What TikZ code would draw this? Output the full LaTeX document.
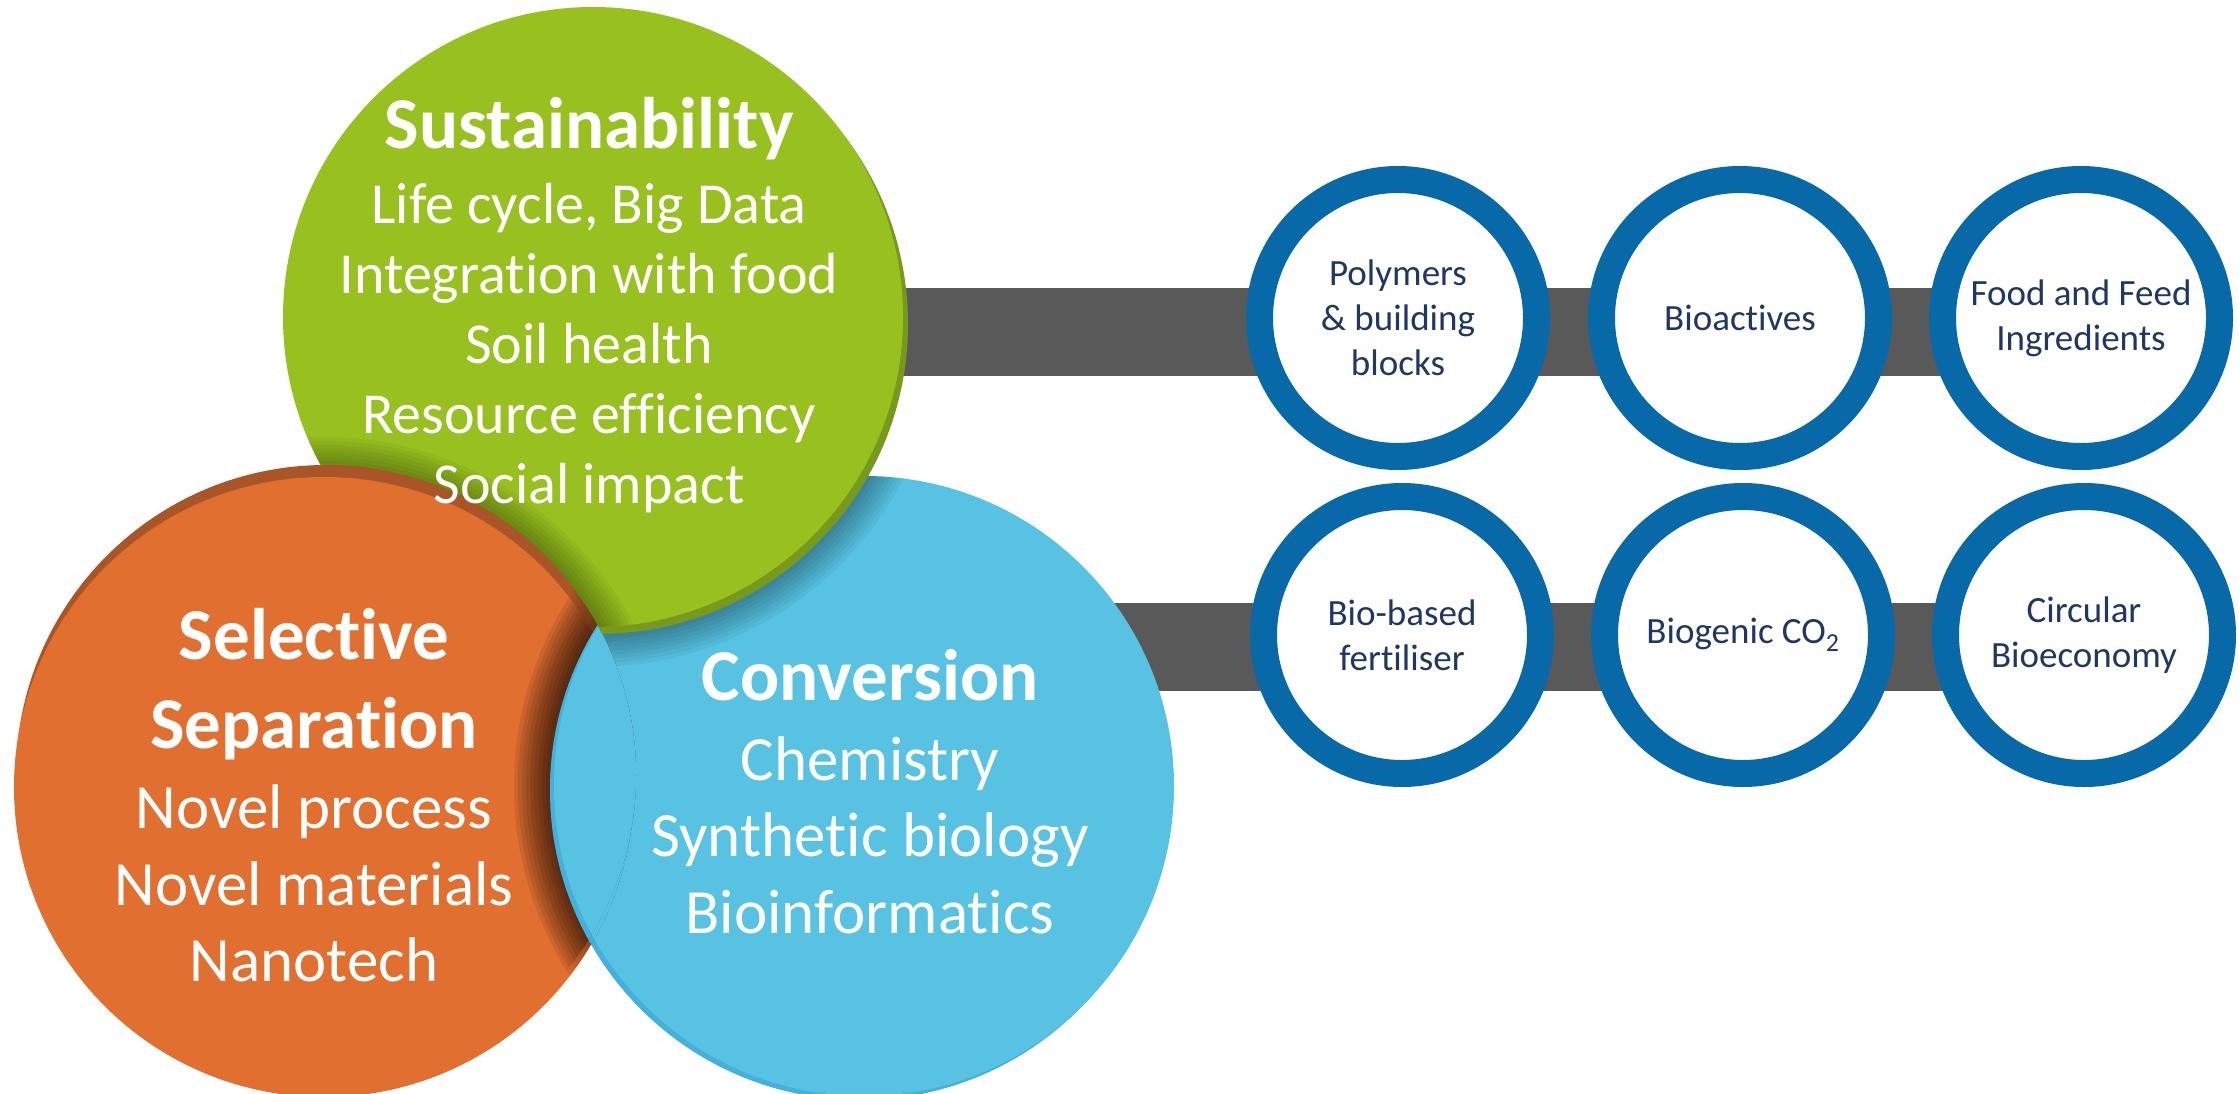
\documentclass[tikz,border=0pt]{standalone}
\usepackage{fontspec}
\setmainfont{Carlito}[Ligatures=NoCommon]
\usetikzlibrary{calc}

\definecolor{sustgreen}{HTML}{98C11F}
\definecolor{sustrim}{HTML}{779A1C}
\definecolor{sepor}{HTML}{E06F30}
\definecolor{seprim}{HTML}{AA5527}
\definecolor{convblue}{HTML}{57C2E2}
\definecolor{convrim}{HTML}{44B1DC}
\definecolor{bargray}{HTML}{595959}
\definecolor{ringblue}{HTML}{0769A8}
\definecolor{ringtext}{HTML}{1F3763}

\pgfdeclarelayer{bars}
\pgfsetlayers{bars,main}

\begin{document}
\begin{tikzpicture}[x=1pt,y=1pt,
    bar/.style={draw=bargray,line width=88pt},
    ring/.style={circle,draw=ringblue,line width=27pt,fill=white,minimum size=277pt,inner sep=0pt,
      text=ringtext,align=center,font=\fontsize{37}{45}\selectfont},
    head/.style={anchor=base,inner sep=0pt,text=white,font=\fontsize{73}{80}\selectfont\bfseries},
    sline/.style={anchor=base,inner sep=0pt,text=white,font=\fontsize{58}{70}\selectfont},
    cline/.style={anchor=base,inner sep=0pt,text=white,font=\fontsize{63}{77}\selectfont}]
        \begin{pgfonlayer}{bars}
          \fill[white] (0,0) rectangle (2239,-1093);
        \end{pgfonlayer}
        \useasboundingbox (0,0) rectangle (2239,-1093);
        \coordinate (sus) at (593,-317);
        \coordinate (sep) at (324,-787);
        \coordinate (conv) at (864,-786);
        % blue disc at the bottom of the pile
        \fill[convrim] ($(conv)+(-4,-4)$) circle[radius=310];
        \fill[convblue] (conv) circle[radius=310];
        \begin{scope}
          \clip (conv) circle[radius=310];
          \foreach \k in {1,...,10}
            \fill[black,opacity=0.045] (sus) circle[radius=310+4*\k];
        \end{scope}
        % green disc
        \fill[sustrim] ($(sus)+(5,-7)$) circle[radius=310];
        \fill[sustgreen] (sus) circle[radius=310];
        \begin{scope}
          \clip (sus) circle[radius=310];
          \foreach \k in {1,...,10}
            \fill[black,opacity=0.045] (sep) circle[radius=310+4*\k];
        \end{scope}
        % orange disc
        \fill[seprim] ($(sep)+(2,12)$) circle[radius=310];
        \fill[sepor] (sep) circle[radius=310];
        % blue comes back over the orange (disc and its rim)
        \foreach \ox/\oy in {0/0,2/12}{
          \begin{scope}
            \clip ($(sep)+(\ox,\oy)$) circle[radius=310];
            \foreach \k in {1,...,10}
              \fill[black,opacity=0.045] (conv) circle[radius=310+4*\k];
            \fill[convrim] ($(conv)+(-4,-4)$) circle[radius=310];
            \fill[convblue] (conv) circle[radius=310];
          \end{scope}
        }
        % products
        \node[ring] (poly) at (1398,-318) {Polymers\\\& building\\blocks};
        \node[ring] (bioact) at (1740,-318) {Bioactives};
        \node[ring] (feed) at (2081,-318) {Food and Feed\\Ingredients};
        \node[ring] (fert) at (1402,-635) {Bio-based\\fertiliser};
        \node[ring] (bioco) at (1743,-635) {Biogenic CO\textsubscript{2}};
        \node[ring] (cbe) at (2084,-635) {Circular\\Bioeconomy};
        \begin{pgfonlayer}{bars}
          \draw[bar] ($(sus |- poly.center)+(0,-14)$) -- ($(feed.center)+(0,-14)$);
          \draw[bar] ($(conv |- fert.center)+(0,-12)$) -- ($(cbe.center)+(0,-12)$);
        \end{pgfonlayer}
        % texts on the discs
        \node[head] (sust) at (589,-148) {Sustainability};
        \node[sline] (sust1) at (589,-223) {Life cycle, Big Data};
        \node[sline] (sust2) at (589,-293) {Integration with food};
        \node[sline] (sust3) at (589,-363) {Soil health};
        \node[sline] (sust4) at (589,-433) {Resource efficiency};
        \node[sline] (sust5) at (589,-503) {Social impact};
        \node[head] (sel) at (314,-659) {Selective};
        \node[head] (sepa) at (314,-748) {Separation};
        \node[cline] (sep1) at (314,-828) {Novel process};
        \node[cline] (sep2) at (314,-905) {Novel materials};
        \node[cline] (sep3) at (314,-981) {Nanotech};
        \node[head] (conv0) at (870,-700) {Conversion};
        \node[cline] (conv1) at (870,-780) {Chemistry};
        \node[cline] (conv2) at (870,-856) {Synthetic biology};
        \node[cline] (conv3) at (870,-933) {Bioinformatics};
\end{tikzpicture}
\end{document}
